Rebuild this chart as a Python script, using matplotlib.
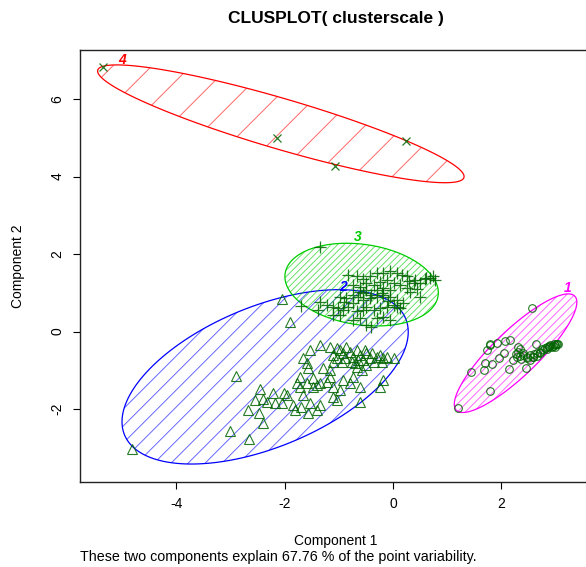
import numpy as np
import matplotlib.pyplot as plt
from matplotlib.patches import Polygon
from matplotlib.collections import LineCollection

plt.rcParams['font.family'] = ['Liberation Sans', 'DejaVu Sans']
plt.rcParams['axes.unicode_minus'] = False

# cluster 1 (circles)
c1_x = [2.56, 1.19, 1.78, 1.43, 1.67, 1.83, 1.70, 1.96, 2.14, 2.45, 2.04, 1.73,
        1.79, 1.91, 2.07, 2.16, 1.78, 2.30, 2.63, 2.22, 2.28, 2.34, 2.40, 2.47,
        2.53, 2.59, 2.65, 2.71, 2.77, 2.80, 2.84, 2.87, 2.90, 2.93, 2.96, 2.99,
        3.02, 3.05, 2.34, 2.40, 2.47, 2.53, 2.59, 2.65, 2.71, 2.84, 2.88, 2.95,
        2.30, 2.26, 2.36, 2.60, 2.75, 2.98, 3.00]
c1_y = [0.61, -1.97, -1.53, -1.05, -0.99, -0.84, -0.81, -0.68, -0.98, -0.94, -0.56, -0.48,
        -0.35, -0.29, -0.25, -0.23, -0.32, -0.41, -0.31, -0.74, -0.65, -0.63, -0.61, -0.67,
        -0.61, -0.65, -0.56, -0.52, -0.48, -0.43, -0.39, -0.37, -0.35, -0.39, -0.32, -0.35,
        -0.31, -0.32, -0.46, -0.56, -0.69, -0.74, -0.67, -0.63, -0.56, -0.46, -0.41, -0.37,
        -0.52, -0.58, -0.70, -0.58, -0.45, -0.40, -0.33]

# cluster 2 (triangles)
c2_x = [-2.04, -1.91, -4.81, -3.01, -2.89, -2.66, -2.45, -2.39, -2.55, -2.67, -2.47, -2.39,
        -2.21, -2.33, -2.18, -2.02, -1.96, -2.05, -1.81, -1.84, -1.69, -1.56, -1.41, -1.35,
        -1.66, -1.72, -1.59, -1.47, -1.35, -1.22, -1.10, -1.10, -1.04, -0.98, -1.16, -1.16,
        -1.29, -1.53, -1.35, -1.16, -1.10, -1.04, -0.98, -0.92, -0.86, -0.79, -0.73, -0.67,
        -0.61, -0.55, -0.49, -0.43, -0.36, -0.30, -0.24, -0.18, -0.12, 0.01, -0.67, -0.58,
        -0.49, -0.73, -0.61, -0.79, -0.92, -1.41, -1.66, -1.59, -1.56, -1.47, -1.72, -1.78,
        -0.24, -0.18, -0.61, -1.53, -1.04, -0.89, -0.76, -0.64, -0.52, -0.39, -0.21, -0.70,
        -0.95, -1.10]
c2_y = [0.83, 0.25, -3.02, -2.57, -1.16, -2.78, -1.49, -1.73, -1.77, -2.03, -2.11, -2.37,
        -1.60, -1.81, -1.85, -1.60, -1.64, -1.85, -2.03, -1.90, -1.94, -2.11, -2.03, -1.90,
        -1.64, -1.42, -1.34, -1.42, -1.34, -1.30, -1.42, -1.68, -1.77, -1.51, -1.17, -0.99,
        -0.95, -0.48, -0.35, -0.39, -0.61, -0.69, -0.48, -0.56, -0.39, -0.52, -0.65, -0.48,
        -0.61, -0.73, -0.56, -0.69, -0.78, -0.65, -0.61, -0.69, -0.65, -0.69, -0.91, -0.99,
        -0.86, -1.17, -1.42, -1.34, -1.25, -1.38, -0.69, -0.82, -0.95, -1.21, -1.17, -1.34,
        -1.42, -1.25, -1.81, -1.85, -0.43, -0.69, -0.78, -0.74, -0.48, -0.56, -0.78, -0.82,
        -0.78, -0.78]

# cluster 3 (plus)
c3_x = [-1.35, -0.83, -0.67, -0.55, -0.43, -0.30, -0.18, -0.06, 0.07, 0.16, 0.25, 0.41,
        0.50, 0.59, 0.68, 0.74, 0.77, -0.73, -0.61, -0.49, -0.36, -0.24, -0.12, 0.01,
        0.13, 0.25, 0.38, 0.50, -0.61, -0.49, -0.30, -0.18, -0.06, -0.98, -0.86, -0.73,
        -0.64, -0.55, -0.43, -0.30, -0.18, -0.06, 0.07, 0.19, 0.31, -1.35, -1.22, -1.10,
        -1.01, -0.92, -0.83, -0.73, -0.67, -0.55, -0.49, -0.36, -0.24, -0.12, 0.01, 0.13,
        -1.69, -1.38, -1.10, -0.98, -0.73, -0.61, -0.49, -0.40, -0.30, -0.18, -0.06, 0.07,
        -0.20, 0.30, 0.45, -0.90, -0.40, 0.60, -0.10, -0.55]
c3_y = [2.19, 1.47, 1.42, 1.35, 1.42, 1.50, 1.52, 1.55, 1.50, 1.45, 1.42, 1.33,
        1.24, 1.35, 1.37, 1.42, 1.33, 1.20, 1.16, 1.24, 1.20, 1.29, 1.33, 1.24,
        1.20, 1.11, 1.24, 0.90, 1.03, 1.07, 1.07, 1.11, 1.07, 0.90, 0.86, 0.94,
        0.90, 0.81, 0.86, 0.90, 0.94, 0.90, 0.81, 0.73, 1.03, 0.77, 0.69, 0.64,
        0.60, 0.56, 0.64, 0.73, 0.52, 0.56, 0.64, 0.56, 0.60, 0.64, 0.69, 0.60,
        0.66, 0.56, 0.43, 0.43, 0.30, 0.34, 0.17, 0.12, 0.34, 0.37, 0.30, 0.64,
        1.00, 1.30, 1.10, 0.75, 0.95, 1.38, 0.80, 1.00]

# cluster 4 (x)
c4_x = [-5.35, -2.15, -1.07, 0.24]
c4_y = [6.82, 5.00, 4.27, 4.92]

# ellipses: centre, x/y half-extent, correlation
clus_names = ['1', '2', '3', '4']
ell_cx = [2.26, -2.36, -0.58, -2.07]
ell_cy = [-0.56, -1.17, 1.21, 5.36]
ell_sx = [1.13, 2.64, 1.415, 3.38]
ell_sy = [1.53, 2.25, 1.067, 1.52]
ell_r = [0.86, 0.515, -0.195, -0.895]
lab_x = [3.23, -0.92, -0.65, -5.0]
lab_y = [1.13, 1.15, 2.44, 7.0]

ell_col = ['#FF00FF', '#0000FF', '#00CD00', '#FF0000']
hatch_gap = [8, 17, 6.5, 39]   # px between hatch lines
pt_col = '#006400'

fig = plt.figure(figsize=(5.86, 5.67), dpi=100)
W, H = 586, 567
L, R, B, T = 80, 592, 482, 50
ax = fig.add_axes([L / W, (H - B) / H, (R - L) / W, (B - T) / H])
xlim = (-5.775, 3.67)
ylim = (-3.884, 7.265)
ax.set_xlim(*xlim)
ax.set_ylim(*ylim)

ppx = (R - L) / (xlim[1] - xlim[0])
ppy = (B - T) / (ylim[1] - ylim[0])
slope = ppx / ppy   # 45 degrees on screen

t = np.linspace(0, 2 * np.pi, 400)
for i in range(4):
    cx, cy, sx, sy, r = ell_cx[i], ell_cy[i], ell_sx[i], ell_sy[i], ell_r[i]
    ex = cx + sx * np.cos(t)
    ey = cy + sy * (r * np.cos(t) + np.sqrt(1 - r ** 2) * np.sin(t))
    patch = Polygon(np.column_stack([ex, ey]), closed=True, fill=False,
                    edgecolor=ell_col[i], lw=0.9)
    ax.add_patch(patch)

    db = hatch_gap[i] / ppy
    bmin = (cy - sy) - slope * (cx + sx)
    bmax = (cy + sy) - slope * (cx - sx)
    x0, x1 = cx - sx - 1, cx + sx + 1
    segs = [[(x0, slope * x0 + b), (x1, slope * x1 + b)]
            for b in np.arange(bmin, bmax, db)]
    lc = LineCollection(segs, colors=ell_col[i], linewidths=0.7, alpha=0.6)
    ax.add_collection(lc)
    lc.set_clip_path(patch)

    ax.text(lab_x[i], lab_y[i], clus_names[i], color=ell_col[i], fontsize=10,
            fontweight='bold', fontstyle='italic', ha='center', va='center')

mk = dict(ls='none', color=pt_col, alpha=0.85)
ax.plot(c1_x, c1_y, marker='o', ms=5.5, mfc='none', mew=0.8, **mk)
ax.plot(c2_x, c2_y, marker='^', ms=6.8, mfc='none', mew=0.8, **mk)
ax.plot(c3_x, c3_y, marker='+', ms=8, mew=0.9, **mk)
ax.plot(c4_x, c4_y, marker='x', ms=6, mew=0.9, **mk)

ax.set_xticks([-4, -2, 0, 2])
ax.set_yticks([-2, 0, 2, 4, 6])
ax.tick_params(direction='out', length=5, width=0.8, labelsize=10, pad=6)
for lbl in ax.get_yticklabels():
    lbl.set_rotation(90)
    lbl.set_va('center')
for s in ax.spines.values():
    s.set_linewidth(1.0)
    s.set_color('#222222')

fig.text((L + R) / 2 / W, 1 - 18 / H, 'CLUSPLOT( clusterscale )', fontsize=12.5,
         fontweight='bold', ha='center', va='center')
fig.text((L + R) / 2 / W, 1 - 541 / H, 'Component 1', fontsize=10,
         ha='center', va='center')
fig.text(L / W, 1 - 557 / H,
         'These two components explain 67.76 % of the point variability.',
         fontsize=10.3, ha='left', va='center')
fig.text(18 / W, 1 - 266 / H, 'Component 2', fontsize=10, rotation=90,
         ha='center', va='center')

fig.savefig('out.png', dpi=100)
